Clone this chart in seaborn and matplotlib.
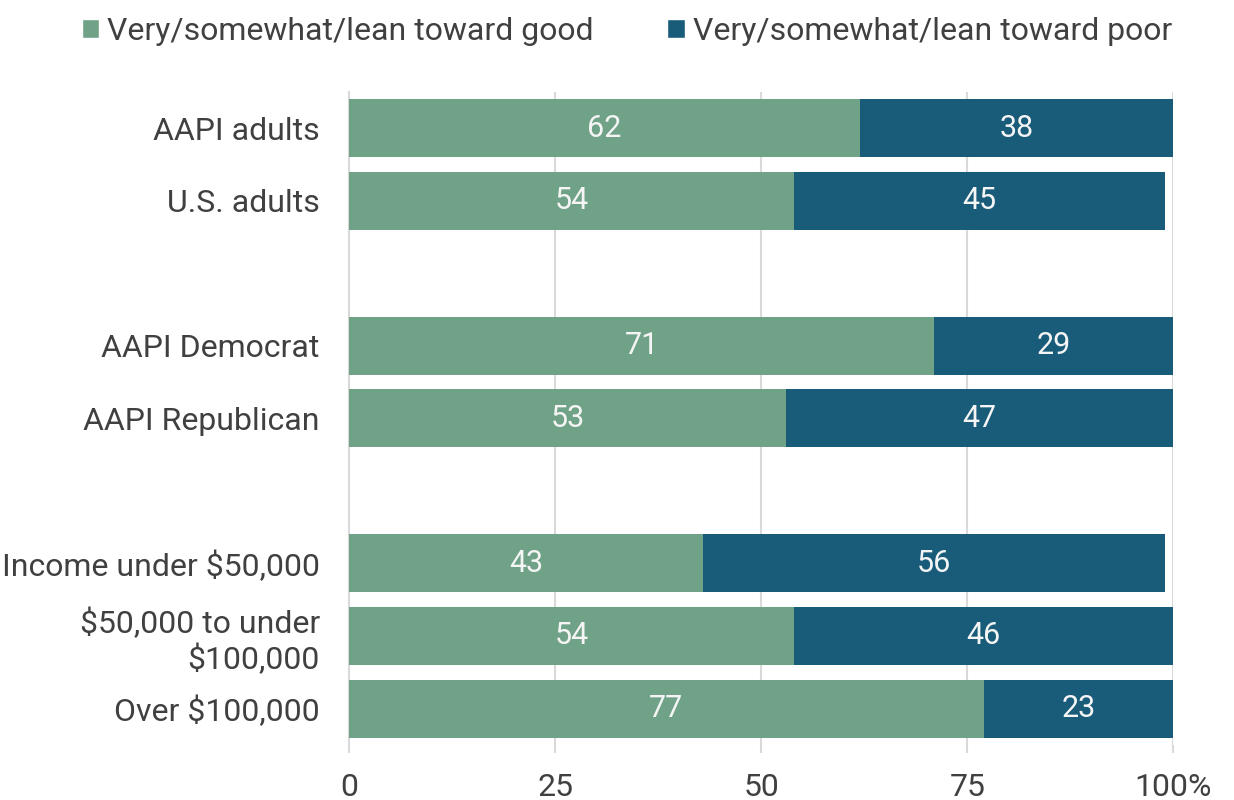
import numpy as np
import pandas as pd
import matplotlib.pyplot as plt
import seaborn as sns
from matplotlib.patches import Patch

sns.set_style("white")
plt.rcParams["font.family"] = ["Roboto", "DejaVu Sans"]

# data
groups = ["AAPI adults", "U.S. adults", " ", "AAPI Democrat", "AAPI Republican", "  ",
          "Income under \\$50,000", "\\$50,000 to under\n\\$100,000", "Over \\$100,000"]
good = [62, 54, 0, 71, 53, 0, 43, 54, 77]
poor = [38, 45, 0, 29, 47, 0, 56, 46, 23]
legend_labels = ["Very/somewhat/lean toward good", "Very/somewhat/lean toward poor"]
x_ticks = [0, 25, 50, 75, 100]
x_ticklabels = ["0", "25", "50", "75", "100%"]

green = "#6FA287"
blue = "#185C7A"
txt = "#404040"
fs = 23

df = pd.DataFrame({"group": groups, "good": good, "poor": poor})
df["total"] = df["good"] + df["poor"]

fig = plt.figure(figsize=(12.34, 8), dpi=100)
ax = fig.add_axes([0.2828, 0.069, 0.668, 0.816])

ax.grid(axis="x", color="#d9d9d9", linewidth=1.5, zorder=0)
ax.set_axisbelow(True)

sns.barplot(data=df, x="total", y="group", order=groups, color=blue, saturation=1,
            width=0.8, linewidth=0, ax=ax, zorder=2)
sns.barplot(data=df, x="good", y="group", order=groups, color=green, saturation=1,
            width=0.8, linewidth=0, ax=ax, zorder=3)

# value labels
for i, (g, p) in enumerate(zip(good, poor)):
    if g + p == 0:
        continue
    ax.text(g / 2, i, str(g), ha="center", va="center", color="#f5f5f5", fontsize=22, zorder=4)
    ax.text(g + p / 2, i, str(p), ha="center", va="center", color="#f5f5f5", fontsize=22, zorder=4)

ax.set_xlim(0, 100)
ax.set_xticks(x_ticks)
ax.set_xticklabels(x_ticklabels)
ax.set_xlabel("")
ax.set_ylabel("")
ax.tick_params(axis="x", length=6, width=1.5, color="#d9d9d9", pad=14, labelsize=fs, labelcolor=txt)
ax.tick_params(axis="y", length=0, pad=21, labelsize=fs, labelcolor=txt)
ax.xaxis.set_ticks_position("bottom")

for s in ["top", "right", "bottom"]:
    ax.spines[s].set_visible(False)
ax.spines["left"].set_color("#d9d9d9")
ax.spines["left"].set_linewidth(1.5)

handles = [Patch(facecolor=green), Patch(facecolor=blue)]
fig.legend(handles, legend_labels, loc="upper center", bbox_to_anchor=(0.508, 1.015), ncol=2,
           frameon=False, fontsize=fs, labelcolor=txt, handlelength=0.55, handleheight=0.55,
           handletextpad=0.25, columnspacing=2.3)

fig.savefig("out.png", dpi=100)
